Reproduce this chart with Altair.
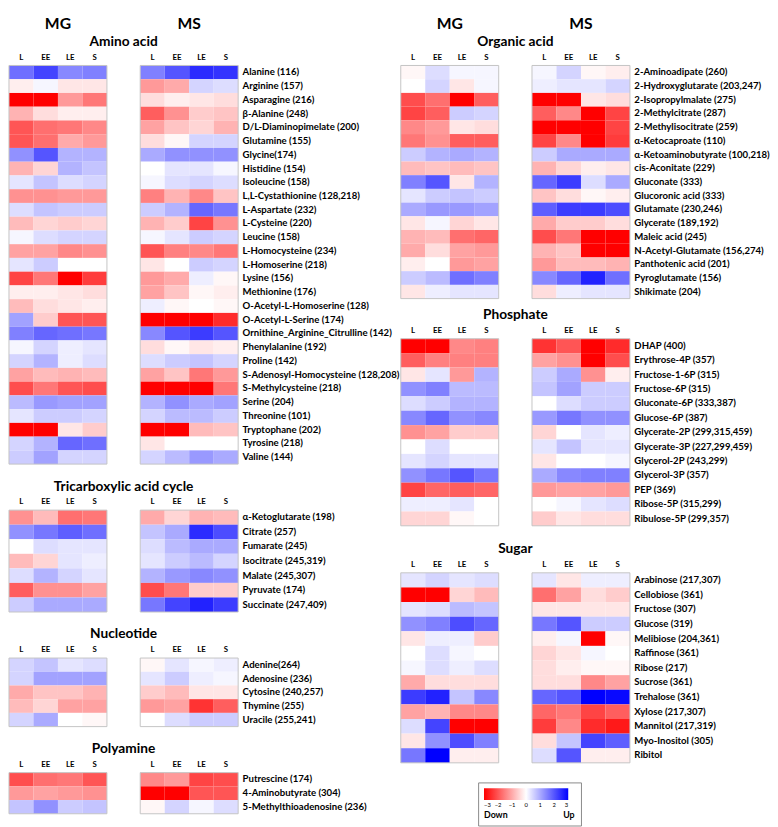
import altair as alt
import pandas as pd

TIMEPOINTS = ["L", "EE", "LE", "S"]
PANELS = ["MG", "MS"]

AMINO_NAMES = [
    "Alanine (116)", "Arginine (157)", "Asparagine (216)", "β-Alanine (248)",
    "D/L-Diaminopimelate (200)", "Glutamine (155)", "Glycine(174)", "Histidine (154)",
    "Isoleucine (158)", "L,L-Cystathionine (128,218)", "L-Aspartate (232)", "L-Cysteine (220)",
    "Leucine (158)", "L-Homocysteine (234)", "L-Homoserine (218)", "Lysine (156)",
    "Methionine (176)", "O-Acetyl-L-Homoserine (128)", "O-Acetyl-L-Serine (174)",
    "Ornithine_Arginine_Citrulline (142)", "Phenylalanine (192)", "Proline (142)",
    "S-Adenosyl-Homocysteine (128,208)", "S-Methylcysteine (218)", "Serine (204)",
    "Threonine (101)", "Tryptophane (202)", "Tyrosine (218)", "Valine (144)",
]
AMINO_MG = [
    [1.7, 2.2, 1.4, 1.5], [-0.2, 0.1, -0.3, -0.3], [-3.0, -3.0, -1.2, -1.6], [-0.9, -0.4, -0.2, -0.2],
    [-2.0, -1.7, -1.6, -1.4], [-2.0, -1.7, -1.0, -1.2], [1.3, 2.0, 0.9, 0.9], [-0.9, -0.5, 0.9, 0.7],
    [0.3, 0.7, 0.4, 0.5], [-1.3, -1.3, -1.2, -1.2], [0.4, 0.7, 0.6, 0.6], [-0.8, -0.5, -0.6, -0.5],
    [0.1, 0.4, 0.5, 0.5], [-1.1, -1.1, -1.4, -1.3], [0.3, 0.6, 0.0, 0.0], [-2.2, -1.6, -3.0, -2.3],
    [-0.2, -0.2, -0.3, -0.4], [-0.8, -0.4, -0.3, -0.2], [1.1, -0.6, -2.0, -2.0],
    [1.5, 1.8, 1.7, 1.6], [0.1, 0.5, 0.2, 0.3], [0.5, 0.9, 0.2, 0.4],
    [-1.1, -0.8, -0.9, -0.8], [-2.1, -1.6, -2.0, -2.1], [0.8, 1.2, 1.1, 1.1],
    [0.3, 0.6, 0.6, 0.5], [-3.0, -3.0, -0.3, -0.6], [0.5, 0.9, 1.8, 1.7], [0.6, 1.1, 0.5, 0.5],
]
AMINO_MS = [
    [1.5, 2.0, 2.5, 2.4], [-1.2, -1.0, 0.5, 0.4], [-0.4, -0.2, -0.3, -0.4], [-1.9, -1.3, -0.6, -0.7],
    [-1.1, -0.7, -0.5, -0.9], [-0.4, -0.1, 0.5, 0.5], [1.0, 1.3, 1.3, 1.3], [0.0, 0.3, 0.3, 0.1],
    [0.1, 0.4, 0.5, 0.4], [-1.5, -0.9, -1.4, -0.7], [0.6, 0.9, 1.8, 1.6], [-0.9, -0.6, -2.2, -1.3],
    [0.1, 0.3, 0.6, 0.5], [-2.0, -1.5, -1.4, -1.6], [-0.3, 0.0, 0.6, 0.5], [-1.2, -1.0, 0.2, -0.1],
    [-1.1, -0.7, -0.1, -0.2], [0.2, -0.1, 0.0, -0.1], [-3.0, -3.0, -3.0, -2.5],
    [1.4, 2.0, 2.3, 2.0], [-0.4, -0.1, -0.3, -0.2], [0.4, 0.6, 0.7, 0.5],
    [-1.1, -0.7, -1.6, -1.2], [-3.0, -3.0, -3.0, -1.6], [0.9, 1.3, 1.0, 1.1],
    [0.5, 0.8, 0.8, 0.6], [-3.0, -3.0, -0.8, -0.7], [-0.3, 0.0, 0.0, 0.0], [0.5, 0.8, 1.2, 1.0],
]

TCA_NAMES = [
    "α-Ketoglutarate (198)", "Citrate (257)", "Fumarate (245)", "Isocitrate (245,319)",
    "Malate (245,307)", "Pyruvate (174)", "Succinate (247,409)",
]
TCA_MG = [
    [-1.3, -0.8, -1.7, -1.6], [1.3, 1.6, 1.9, 1.7], [0.0, 0.4, 0.3, 0.3], [-0.8, -0.5, 0.3, 0.2],
    [0.4, 0.9, 0.5, 0.3], [-1.9, -1.3, -1.3, -1.1], [0.6, 1.0, 1.0, 1.0],
]
TCA_MS = [
    [-1.0, -0.5, -0.9, -0.8], [0.7, 1.0, 2.5, 2.1], [0.4, 0.8, 1.0, 1.0], [0.3, 0.6, 0.8, 0.5],
    [0.9, 1.2, 1.4, 1.3], [-2.1, -1.6, -0.6, -0.6], [1.6, 2.2, 2.6, 2.3],
]

NUC_NAMES = ["Adenine(264)", "Adenosine (236)", "Cytosine (240,257)", "Thymine (255)", "Uracile (255,241)"]
NUC_MG = [[0.5, 0.7, 0.3, 0.4], [0.5, 1.1, 1.1, 1.1], [-1.0, -0.7, -0.7, -0.9], [-0.8, -0.5, -1.1, -1.1], [0.5, 1.0, 0.0, -0.1]]
NUC_MS = [[-0.1, 0.3, 0.1, 0.2], [0.3, 0.6, 0.2, 0.1], [-0.6, -0.8, -0.3, -0.3], [-1.2, -1.1, -2.4, -1.9], [0.0, 0.4, 0.6, 0.6]]

POLY_NAMES = ["Putrescine (174)", "4-Aminobutyrate (304)", "5-Methylthioadenosine (236)"]
POLY_MG = [[-2.1, -1.7, -1.6, -2.0], [-1.2, -1.1, -1.2, -1.3], [0.7, 1.3, 0.6, 0.7]]
POLY_MS = [[-1.4, -1.2, -2.2, -2.1], [-3.0, -3.0, -2.0, -2.0], [-0.1, 0.5, 0.1, 0.4]]

ORG_NAMES = [
    "2-Aminoadipate (260)", "2-Hydroxyglutarate (203,247)", "2-Isopropylmalate (275)",
    "2-Methylcitrate (287)", "2-Methylisocitrate (259)", "α-Ketocaproate (110)",
    "α-Ketoaminobutyrate (100,218)", "cis-Aconitate (229)", "Gluconate (333)",
    "Glucoronic acid (333)", "Glutamate (230,246)", "Glycerate (189,192)", "Maleic acid (245)",
    "N-Acetyl-Glutamate (156,274)", "Panthotenic acid (201)", "Pyroglutamate (156)", "Shikimate (204)",
]
ORG_MG = [
    [-0.1, 0.4, 0.1, 0.1], [0.0, 0.5, -0.3, 0.1], [-2.1, -1.7, -3.0, -1.9], [-2.2, -1.9, 0.6, 0.5],
    [-1.4, -1.2, -0.3, -0.4], [-1.6, -1.3, -1.9, -1.9], [0.6, 0.9, 1.0, 0.9], [-0.8, -0.7, -0.8, -0.7],
    [1.5, 2.0, -0.3, 0.9], [0.3, 0.6, 0.7, 0.6], [1.0, 1.2, 1.2, 1.1], [-0.3, 0.1, -0.5, -0.3],
    [-0.9, -0.8, -1.7, -1.8], [-1.0, -0.4, -1.1, -1.2], [-0.2, 0.0, -1.2, -1.1], [0.6, 0.8, 1.7, 1.5],
    [-0.3, 0.2, 0.3, 0.3],
]
ORG_MS = [
    [0.1, 0.5, -0.1, -0.2], [0.2, 0.3, 0.3, 0.5], [-3.0, -3.0, -0.3, -0.4], [-1.9, -1.4, -3.0, -2.2],
    [-3.0, -3.0, -3.0, -2.2], [-2.2, -1.4, -3.0, -2.3], [0.6, 1.0, 1.0, 1.0], [-0.9, -0.5, -0.2, -0.3],
    [1.8, 2.3, 0.4, 1.0], [-0.7, -0.4, -0.1, -0.2], [1.9, 2.3, 2.3, 2.1], [-1.0, -0.6, -0.6, -0.4],
    [-2.1, -1.6, -3.0, -3.0], [-0.9, -0.7, -3.0, -3.0], [-1.2, -0.8, -0.8, -0.9], [1.4, 1.8, 2.6, 1.7],
    [-0.4, 0.2, 0.3, 0.3],
]

PHOS_NAMES = [
    "DHAP (400)", "Erythrose-4P (357)", "Fructose-1-6P (315)", "Fructose-6P (315)",
    "Gluconate-6P (333,387)", "Glucose-6P (387)", "Glycerate-2P (299,315,459)",
    "Glycerate-3P (227,299,459)", "Glycerol-2P (243,299)", "Glycerol-3P (357)", "PEP (369)",
    "Ribose-5P (315,299)", "Ribulose-5P (299,357)",
]
PHOS_MG = [
    [-3.0, -3.0, -1.4, -1.5], [-1.9, -1.5, -1.5, -1.5], [-0.3, 0.3, -1.2, 0.9], [1.3, 1.5, 0.8, 0.8],
    [0.4, 0.6, 0.9, 0.9], [1.4, 1.8, 1.3, 1.4], [-1.3, -1.1, -0.6, -0.6], [0.0, 0.4, 0.0, 0.0],
    [0.3, 0.5, 0.3, 0.3], [1.3, 1.6, 2.0, 1.6], [-2.2, -1.8, -1.9, -1.8], [0.2, 0.2, 0.3, 0.0],
    [-0.5, -0.5, -0.1, 0.0],
]
PHOS_MS = [
    [-2.4, -2.0, -3.0, -2.5], [-1.1, -1.3, -3.0, -2.1], [0.6, 1.0, -1.3, -0.2], [0.7, 1.1, 0.6, 0.6],
    [0.0, 0.4, 0.6, 0.6], [1.2, 1.6, 1.3, 1.3], [-0.5, 0.0, 0.3, 0.2], [0.3, 0.7, 0.3, 0.3],
    [-0.3, 0.0, 0.0, 0.1], [1.0, 1.4, 1.5, 1.5], [-1.2, -1.1, -1.1, -1.2], [0.0, 0.1, 0.3, 0.4],
    [-0.6, -0.3, -0.4, -0.4],
]

SUGAR_NAMES = [
    "Arabinose (217,307)", "Cellobiose (361)", "Fructose (307)", "Glucose (319)",
    "Melibiose (204,361)", "Raffinose (361)", "Ribose (217)", "Sucrose (361)", "Trehalose (361)",
    "Xylose (217,307)", "Mannitol (217,319)", "Myo-Inositol (305)", "Ribitol",
]
SUGAR_MG = [
    [0.3, 0.5, 0.3, 0.4], [-3.0, -3.0, -0.5, -0.8], [0.3, 0.4, 0.8, 0.7], [1.3, 1.5, 2.1, 1.8],
    [-0.3, 0.2, 0.2, -0.6], [0.0, 0.4, 0.1, 0.0], [0.1, 0.4, 0.2, 0.4], [-1.0, -0.4, -0.4, -0.4],
    [2.3, 2.6, 0.7, 1.4], [-1.1, -0.9, -1.4, -1.4], [0.4, 2.2, -3.0, -3.0], [-0.3, 1.3, 2.1, 1.5],
    [1.6, 3.0, -0.2, -0.2],
]
SUGAR_MS = [
    [0.3, -0.3, 0.2, 0.2], [-1.7, -1.1, -0.4, -0.6], [-0.3, -0.3, -0.3, -0.3], [1.6, 2.0, 0.6, 0.6],
    [-0.2, 0.1, -3.0, -0.1], [-0.5, -0.3, 0.1, 0.0], [-0.4, -0.2, -0.1, -0.1], [-0.4, -0.4, -1.4, -1.1],
    [1.8, 2.0, 3.0, 2.9], [-1.8, -1.6, -2.2, -1.9], [-2.3, -1.4, -2.5, -2.7], [-0.4, 0.7, 2.2, 1.9],
    [0.4, 2.0, -0.2, -0.2],
]

LEGEND_TICKS = [-3, -2, -1, 0, 1, 2, 3]

FONT = "Lato"
PANEL_W = 100
GAP = 34
PLOT_W = 2 * PANEL_W + GAP
PAD_INNER = GAP / (PANEL_W + GAP)

COLOR_SCALE = alt.Scale(domain=[-3, 0, 3], range=["#ff0000", "#ffffff", "#0000ff"],
                        interpolate="rgb", clamp=True)
LEGEND = alt.Legend(
    orient="none", legendX=479, legendY=732, direction="horizontal",
    gradientLength=86, gradientThickness=12, values=LEGEND_TICKS,
    labelFontSize=6, labelFont=FONT, labelOffset=2, labelColor="black",
    title="Down" + "\u00a0" * 26 + "Up", titleOrient="bottom", titleFont=FONT,
    titleFontSize=9, titleFontWeight="bold", titleColor="black", titlePadding=3,
    strokeColor="#888888", padding=6, gradientStrokeWidth=0,
)


def long_df(names, mg, ms):
    rows = []
    for name, a, b in zip(names, mg, ms):
        for tp, v in zip(TIMEPOINTS, a):
            rows.append({"metabolite": name, "panel": "MG", "tp": tp, "value": v})
        for tp, v in zip(TIMEPOINTS, b):
            rows.append({"metabolite": name, "panel": "MS", "tp": tp, "value": v})
    return pd.DataFrame(rows)


def section(title, names, mg, ms, height, top=False):
    df = long_df(names, mg, ms)
    x = alt.X("panel:N", scale=alt.Scale(domain=PANELS, paddingInner=PAD_INNER, paddingOuter=0), axis=None)
    xo = alt.XOffset("tp:N", scale=alt.Scale(domain=TIMEPOINTS, paddingInner=0, paddingOuter=0))
    cells = alt.Chart(df).mark_rect().encode(
        x=x, xOffset=xo,
        y=alt.Y("metabolite:N", sort=names, scale=alt.Scale(paddingInner=0, paddingOuter=0),
                axis=alt.Axis(orient="right", title=None, ticks=False, domain=False, labelPadding=4,
                              labelFont=FONT, labelFontSize=9.8, labelFontWeight="bold",
                              labelColor="black", labelLimit=180)),
        color=alt.Color("value:Q", scale=COLOR_SCALE, legend=LEGEND),
    )
    hdr_df = pd.DataFrame([{"panel": p, "tp": t} for p in PANELS for t in TIMEPOINTS])
    headers = alt.Chart(hdr_df).mark_text(font=FONT, fontSize=8, fontWeight="bold", baseline="middle",
                                          color="black").encode(
        x=x, xOffset=xo, y=alt.value(-8), text="tp:N")
    frame = alt.Chart(pd.DataFrame({"panel": PANELS})).mark_rect(
        fillOpacity=0, stroke="#c4c4c4", strokeWidth=1).encode(
        x=x, y=alt.value(0), y2=alt.value(height))
    ttl = alt.Chart(pd.DataFrame({"section": [title]})).mark_text(
        font=FONT, fontSize=14, fontWeight="bold", baseline="middle", align="center", color="black").encode(
        x=alt.value(PLOT_W / 2), y=alt.value(-24), text="section:N")
    layers = [cells, frame, headers, ttl]
    if top:
        big = alt.Chart(pd.DataFrame({"panel": PANELS})).mark_text(
            font=FONT, fontSize=16, fontWeight="bold", baseline="middle", color="black").encode(
            x=x, y=alt.value(-42), text="panel:N")
        layers.append(big)
    return alt.layer(*layers).properties(width=PLOT_W, height=height)


amino = section("Amino acid", AMINO_NAMES, AMINO_MG, AMINO_MS, 407, top=True)
tca = section("Tricarboxylic acid cycle", TCA_NAMES, TCA_MG, TCA_MS, 104)
nuc = section("Nucleotide", NUC_NAMES, NUC_MG, NUC_MS, 70)
poly = section("Polyamine", POLY_NAMES, POLY_MG, POLY_MS, 42)
org = section("Organic acid", ORG_NAMES, ORG_MG, ORG_MS, 238, top=True)
phos = section("Phosphate", PHOS_NAMES, PHOS_MG, PHOS_MS, 191)
sugar = section("Sugar", SUGAR_NAMES, SUGAR_MG, SUGAR_MS, 194)

left = alt.vconcat(amino, tca, nuc, poly, spacing=15)
right = alt.vconcat(alt.vconcat(org, phos, spacing=9), sugar, spacing=16)

chart = alt.hconcat(left, right, spacing=0).properties(
    padding=0, background="white"
).configure_view(strokeWidth=0)

chart.save("out.html", embed_options={"renderer": "svg", "actions": False})
